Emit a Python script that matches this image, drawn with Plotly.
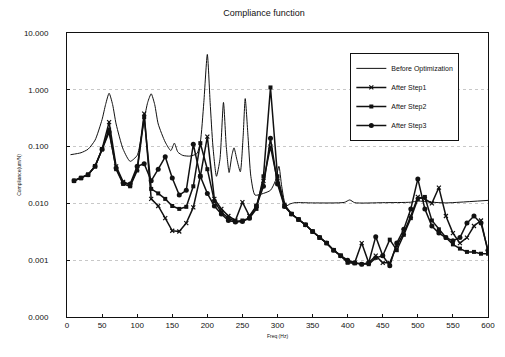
import plotly.graph_objects as go

# ---- data ----
before_freq = [5, 20, 30, 40, 50, 55, 60, 65, 70, 80, 90, 100, 105, 110, 115, 120, 125, 130, 140, 148,
               153, 158, 165, 175, 185, 190, 195, 200, 204, 208, 213, 218, 223, 227, 231, 235, 238, 242,
               247, 251, 254, 258, 262, 268, 280, 290, 297, 302, 306, 312, 318, 325, 350, 395, 403, 410,
               450, 490, 500, 520, 540, 560, 600]
before_vals = [0.072, 0.078, 0.09, 0.13, 0.3, 0.55, 0.87, 0.55, 0.25, 0.09, 0.055, 0.07, 0.13, 0.3, 0.6,
               0.85, 0.55, 0.25, 0.12, 0.085, 0.115, 0.08, 0.07, 0.068, 0.075, 0.12, 0.6, 4.2, 0.6, 0.1,
               0.03, 0.06, 0.6, 0.1, 0.035, 0.07, 0.095, 0.06, 0.036, 0.15, 0.7, 0.15, 0.03, 0.014, 0.015,
               0.017, 0.025, 0.045, 0.02, 0.009, 0.0098, 0.0103, 0.0102, 0.0104, 0.0115, 0.0103, 0.0103,
               0.0105, 0.011, 0.0105, 0.0102, 0.0105, 0.0113]

step_freq = list(range(10, 601, 10))
step1 = [0.025, 0.028, 0.032, 0.045, 0.09, 0.27, 0.045, 0.024, 0.021, 0.04,
         0.38, 0.012, 0.009, 0.0055, 0.0033, 0.0032, 0.0045, 0.0085, 0.03, 0.15,
         0.012, 0.008, 0.006, 0.005, 0.0105, 0.006, 0.009, 0.025, 0.1, 0.025,
         0.009, 0.0065, 0.0052, 0.0042, 0.0032, 0.0025, 0.002, 0.0015, 0.0012, 0.00095,
         0.0009, 0.002, 0.0009, 0.0012, 0.0009, 0.0009, 0.0018, 0.003, 0.006, 0.013,
         0.012, 0.01, 0.019, 0.006, 0.003, 0.002, 0.0025, 0.004, 0.005, 0.0014]
step2 = [0.025, 0.028, 0.032, 0.045, 0.09, 0.2, 0.04, 0.022, 0.02, 0.038,
         0.33, 0.018, 0.015, 0.012, 0.009, 0.008, 0.0087, 0.02, 0.115, 0.04,
         0.011, 0.007, 0.0055, 0.0048, 0.005, 0.0055, 0.008, 0.03, 1.1, 0.03,
         0.0095, 0.0065, 0.0052, 0.0042, 0.0032, 0.0025, 0.002, 0.0015, 0.0012, 0.0009,
         0.00088, 0.00085, 0.00085, 0.0011, 0.0012, 0.0023, 0.0015, 0.0028, 0.0055, 0.012,
         0.013, 0.005, 0.0035, 0.0025, 0.0019, 0.0016, 0.0014, 0.0014, 0.0013, 0.0013]
step3 = [0.025, 0.028, 0.032, 0.045, 0.09, 0.18, 0.042, 0.023, 0.022, 0.045,
         0.05, 0.025, 0.04, 0.066, 0.028, 0.014, 0.017, 0.11, 0.03, 0.015,
         0.009, 0.0065, 0.005, 0.0047, 0.0048, 0.0055, 0.009, 0.02, 0.14, 0.022,
         0.0088, 0.0065, 0.0052, 0.0042, 0.0032, 0.0025, 0.002, 0.0015, 0.0012, 0.001,
         0.0009, 0.00085, 0.0009, 0.0026, 0.0012, 0.0008, 0.002, 0.0035, 0.008, 0.027,
         0.008, 0.004, 0.003, 0.0025, 0.0022, 0.0025, 0.0045, 0.006, 0.0045, 0.0015]

y_tickvals = [0.0001, 0.001, 0.01, 0.1, 1, 10]
y_ticktext = ["0.000", "0.001", "0.010", "0.100", "1.000", "10.000"]
x_tickvals = list(range(0, 601, 50))

INK = "#111111"
fig = go.Figure()
fig.add_trace(go.Scatter(x=before_freq, y=before_vals, mode="lines", name="Before Optimization",
                         line=dict(color=INK, width=1, shape="spline", smoothing=0.6)))
fig.add_trace(go.Scatter(x=step_freq, y=step1, mode="lines+markers", name="After Step1",
                         line=dict(color=INK, width=1.5),
                         marker=dict(symbol="x-thin", size=4, color=INK, line=dict(color=INK, width=1.2))))
fig.add_trace(go.Scatter(x=step_freq, y=step2, mode="lines+markers", name="After Step2",
                         line=dict(color=INK, width=1.5),
                         marker=dict(symbol="square", size=4, color=INK)))
fig.add_trace(go.Scatter(x=step_freq, y=step3, mode="lines+markers", name="After Step3",
                         line=dict(color=INK, width=1.5),
                         marker=dict(symbol="circle", size=5, color=INK)))

# the page body adds an 8px offset, so the figure is sized 8px smaller
fig.update_layout(
    width=497, height=349,
    margin=dict(l=53, r=10, t=25, b=40, pad=0),
    paper_bgcolor="white", plot_bgcolor="white",
    font=dict(family="Liberation Sans, Arial, sans-serif", color=INK, size=8),
    title=dict(text="Compliance function", x=0.515, xref="container", xanchor="center",
               y=0.995, yref="container", yanchor="top", pad=dict(t=0, b=0),
               font=dict(size=9, color=INK)),
    showlegend=True,
    legend=dict(x=0.673, y=0.93, xanchor="left", yanchor="top", bgcolor="white",
                bordercolor=INK, borderwidth=1, font=dict(size=7, color=INK),
                tracegroupgap=0, itemwidth=30),
)
fig.update_xaxes(range=[0, 600], tickvals=x_tickvals, ticks="inside", ticklen=3, tickcolor=INK,
                 showline=True, linecolor=INK, linewidth=1, mirror=True, showgrid=False, zeroline=False,
                 tickfont=dict(size=8, color=INK), ticklabeloverflow="allow",
                 title=dict(text="Freq (Hz)", font=dict(size=5, color=INK), standoff=5))
fig.update_yaxes(type="log", range=[-4, 1], tickvals=y_tickvals, ticktext=y_ticktext, ticks="inside",
                 ticklen=3, tickcolor=INK, showline=True, linecolor=INK, linewidth=1, mirror=True,
                 showgrid=True, gridcolor="#c8c8c8", griddash="dot", gridwidth=1, zeroline=False,
                 tickfont=dict(size=8, color=INK), ticklabelstandoff=16,
                 title=dict(text="Compliance(um/N)", font=dict(size=5, color=INK), standoff=2))

fig.write_html("out.html")
